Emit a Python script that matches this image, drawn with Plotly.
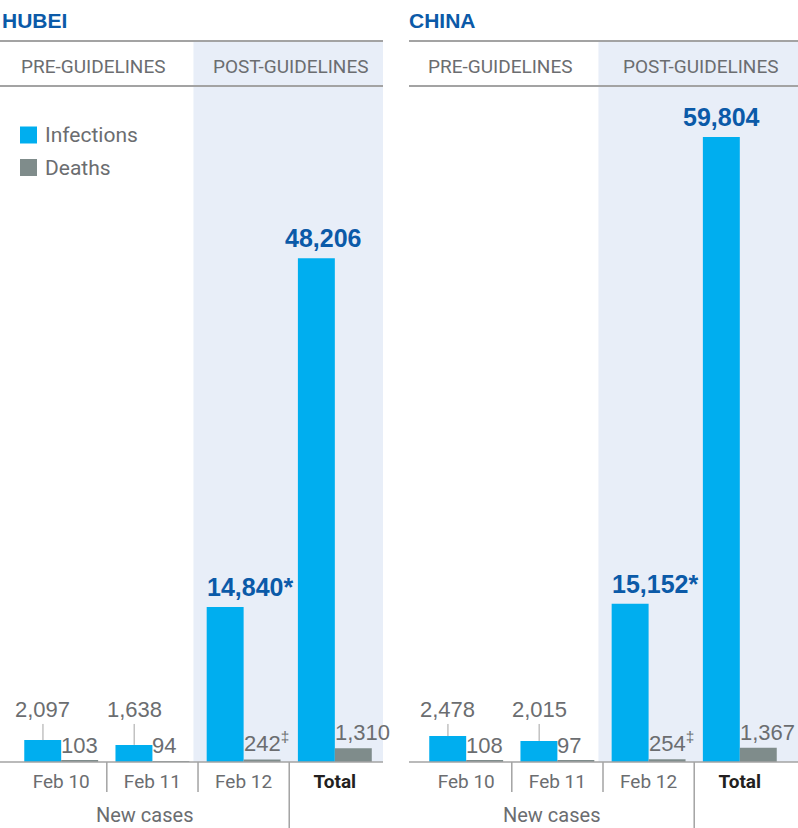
import plotly.graph_objects as go

# ---------------- data ----------------
regions = ["HUBEI", "CHINA"]
categories = ["Feb 10", "Feb 11", "Feb 12", "Total"]
hubei_infections = [2097, 1638, 14840, 48206]
hubei_deaths = [103, 94, 242, 1310]
china_infections = [2478, 2015, 15152, 59804]
china_deaths = [108, 97, 254, 1367]
infection_marks = ["", "", "*", ""]
death_marks = ["", "", "‡", ""]
phase_labels = ["PRE-GUIDELINES", "POST-GUIDELINES"]
group_label = "New cases"
series_names = ["Infections", "Deaths"]

# ---------------- style ----------------
W, H = 798, 828
TOP, BOTTOM = 41, 66          # margins (px)
PLOT_H = H - TOP - BOTTOM
C_INF = "#00aeef"
C_DEA = "#7f8c8b"
C_BLUE = "#0b5aa8"
C_GRAY = "#6b6d70"
C_DARK = "#231f20"
C_SHADE = "#e8eef8"
C_LINE = "#a3a3a3"
NARROW = "Roboto, Liberation Sans, sans-serif"
REG = "Liberation Sans, Arial, sans-serif"
YMAX = 69000
LABEL_Y = 4980                 # height of the small infection labels
SHADE_START = 1.45

panels = [
    dict(name=regions[0], inf=hubei_infections, dea=hubei_deaths,
         xa="x", ya="y", dom=[0, 383 / W], rng=[-0.671, 3.528], tx=0.0, tshift=[0, 0, 0, 6]),
    dict(name=regions[1], inf=china_infections, dea=china_deaths,
         xa="x2", ya="y2", dom=[409 / W, 1.0], rng=[-0.627, 3.638], tx=-0.005, tshift=[0, 0, 0, 0]),
]


def py(px_from_top):
    """paper y from a pixel row"""
    return (H - BOTTOM - px_from_top) / PLOT_H


fig = go.Figure()
shapes, annotations = [], []

for k, p in enumerate(panels):
    xa, ya = p["xa"], p["ya"]
    fig.add_trace(go.Bar(x=categories, y=p["inf"], name=series_names[0],
                         marker=dict(color=C_INF, line=dict(width=0)),
                         xaxis=xa, yaxis=ya, showlegend=False, hoverinfo="skip"))
    fig.add_trace(go.Bar(x=categories, y=p["dea"], name=series_names[1],
                         marker=dict(color=C_DEA, line=dict(width=0)),
                         xaxis=xa, yaxis=ya, showlegend=False, hoverinfo="skip"))

    dom_ref = xa + " domain"
    # shaded post-guidelines band
    shapes.append(dict(type="rect", xref=xa, yref="paper", x0=SHADE_START, x1=p["rng"][1],
                       y0=0, y1=1, fillcolor=C_SHADE, line=dict(width=0), layer="below"))
    # horizontal rules
    for yy, lw in [(1, 2), (py(86), 2), (0, 1.5)]:
        shapes.append(dict(type="line", xref=dom_ref, yref="paper", x0=0, x1=1,
                           y0=yy, y1=yy, line=dict(color=C_LINE, width=lw), layer="above"))
    # separators under the axis
    for xs, ylen in [(0.5, 30), (1.5, 30), (2.5, BOTTOM)]:
        shapes.append(dict(type="line", xref=xa, yref="paper", x0=xs, x1=xs,
                           y0=0, y1=-ylen / PLOT_H, line=dict(color=C_LINE, width=1.5)))

    # title
    annotations.append(dict(text=f"<b>{p['name']}</b>", xref=dom_ref, yref="paper",
                            x=p["tx"], y=py(20), xanchor="left", yanchor="middle",
                            showarrow=False, font=dict(family=REG, size=21, color=C_BLUE)))
    # phase headers
    annotations.append(dict(text=phase_labels[0], xref=xa, yref="paper",
                            x=(p["rng"][0] + SHADE_START) / 2 - 0.04, y=py(67),
                            xanchor="center", yanchor="middle",
                            showarrow=False, font=dict(family=NARROW, size=19, color=C_GRAY)))
    annotations.append(dict(text=phase_labels[1], xref=xa, yref="paper",
                            x=(SHADE_START + p["rng"][1]) / 2 + 0.03, y=py(67),
                            xanchor="center", yanchor="middle",
                            showarrow=False, font=dict(family=NARROW, size=19, color=C_GRAY)))
    # "New cases"
    annotations.append(dict(text=group_label, xref=xa, yref="paper",
                            x=(p["rng"][0] + 2.5) / 2, y=py(815),
                            xanchor="center", yanchor="middle",
                            showarrow=False, font=dict(family=NARROW, size=20, color=C_GRAY)))

    yref = ya
    for i, cat in enumerate(categories):
        v_inf, v_dea = p["inf"][i], p["dea"][i]
        big = v_inf > 10000
        if big:
            is_total = cat == "Total"
            annotations.append(dict(
                text=f"<b>{v_inf:,}{infection_marks[i]}</b>", xref=xa, yref=yref,
                x=i - 0.2 if is_total else i - 0.4, y=v_inf,
                xanchor="center" if is_total else "left", yanchor="bottom", yshift=4,
                xshift=p["tshift"][i] - (0 if is_total else 2),
                showarrow=False, font=dict(family=REG, size=25, color=C_BLUE)))
        else:
            annotations.append(dict(
                text=f"{v_inf:,}", xref=xa, yref=yref, x=i - 0.2, y=v_inf,
                axref=xa, ayref=yref, ax=i - 0.2, ay=LABEL_Y,
                showarrow=True, arrowhead=0, arrowwidth=1, arrowcolor=C_LINE, standoff=0,
                font=dict(family=REG, size=22, color=C_GRAY)))
        mark = f"<sup>{death_marks[i]}</sup>" if death_marks[i] else ""
        annotations.append(dict(
            text=f"{v_dea:,}{mark}", xref=xa, yref=yref, x=i, y=v_dea,
            xanchor="left", yanchor="bottom", yshift=1, xshift=-2, showarrow=False,
            font=dict(family=REG, size=22, color=C_GRAY)))

# legend (left panel)
leg_y = [135, 167.5]
for j, (name, col) in enumerate(zip(series_names, [C_INF, C_DEA])):
    shapes.append(dict(type="rect", xref="x domain", yref="paper",
                       xsizemode="pixel", ysizemode="pixel", xanchor=0, yanchor=py(leg_y[j]),
                       x0=20, x1=37, y0=-8.5, y1=8.5, fillcolor=col, line=dict(width=0),
                       layer="above"))
    annotations.append(dict(text=name, xref="x domain", yref="paper", x=43 / 383, y=py(leg_y[j]),
                            xanchor="left", yanchor="middle", showarrow=False,
                            font=dict(family=NARROW, size=21, color=C_GRAY)))

ticktext = [c if c != "Total" else f"<span style='color:{C_DARK}'><b>{c}</b></span>"
            for c in categories]
axis_x = dict(type="category", showgrid=False, zeroline=False, showline=False, ticks="",
              tickmode="array", tickvals=categories, ticktext=ticktext, ticklabelstandoff=6,
              tickfont=dict(family=NARROW, size=19, color=C_GRAY), fixedrange=True)
axis_y = dict(range=[0, YMAX], visible=False, domain=[0, 1], fixedrange=True)

fig.update_layout(
    width=W, height=H, margin=dict(l=0, r=0, t=TOP, b=BOTTOM, pad=0),
    paper_bgcolor="white", plot_bgcolor="rgba(0,0,0,0)",
    barmode="group", bargap=0.19, bargroupgap=0,
    xaxis=dict(axis_x, domain=panels[0]["dom"], range=panels[0]["rng"], anchor="y"),
    xaxis2=dict(axis_x, domain=panels[1]["dom"], range=panels[1]["rng"], anchor="y2"),
    yaxis=dict(axis_y, anchor="x"),
    yaxis2=dict(axis_y, anchor="x2"),
    shapes=shapes, annotations=annotations, showlegend=False,
)

fig.write_html("out.html", config={"displayModeBar": False},
               post_script="document.body.style.margin='0px';document.body.style.overflow='hidden';")
